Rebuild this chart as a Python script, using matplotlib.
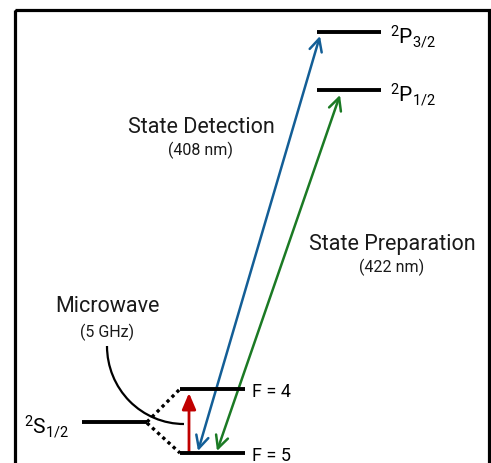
import matplotlib.pyplot as plt
from matplotlib.patches import FancyArrowPatch, Arc, Rectangle

plt.rcParams['font.family'] = ['Roboto', 'DejaVu Sans']
plt.rcParams['mathtext.fontset'] = 'custom'
plt.rcParams['mathtext.rm'] = 'Roboto'
plt.rcParams['mathtext.it'] = 'Roboto:italic'
plt.rcParams['mathtext.bf'] = 'Roboto:bold'

# energy levels (diagram units, y grows downward)
level_names = ['2P3/2', '2P1/2', 'F=4', 'F=5', '2S1/2']
level_x0 = [317, 317, 180, 180, 82]
level_x1 = [381, 381, 245, 245, 147]
level_y = [33, 91, 390, 454, 423]
level_labels = [r'$^{2}\mathrm{P}_{3/2}$', r'$^{2}\mathrm{P}_{1/2}$', 'F = 4', 'F = 5', r'$^{2}\mathrm{S}_{1/2}$']
label_x = [390, 390, 252, 252, 24]
label_size = [15, 15, 13, 13, 15]

# laser transitions: lower end -> upper end
trans_x0 = [198, 217]
trans_y0 = [452, 452]
trans_x1 = [320, 340]
trans_y1 = [37, 96]
trans_colors = ['#135E96', '#1B7A24']

# microwave transition
mw_x = 189
mw_y0 = 453
mw_y1 = 394

# hyperfine splitting lines from 2S1/2 to F levels
split_x = [147, 180]
split_y_top = [423, 390]
split_y_bot = [424, 454]

# text blocks: (title, subtitle, x, baseline title, baseline subtitle)
block_titles = ['State Detection', 'State Preparation', 'Microwave']
block_subs = ['(408 nm)', '(422 nm)', '(5 GHz)']
block_x = [201, 392, 107]
block_y_title = [133, 250, 312]
block_y_sub = [155, 272, 337]

fig = plt.figure(figsize=(4.91, 4.64), dpi=100)
ax = fig.add_axes([0, 0, 1, 1])
ax.set_xlim(0, 491)
ax.set_ylim(464, 0)
ax.axis('off')

# frame
ax.add_patch(Rectangle((15, 11), 474, 480, fill=False, lw=2.3, ec='black'))

for x0, x1, y in zip(level_x0, level_x1, level_y):
    ax.plot([x0, x1], [y, y], color='black', lw=2.8, solid_capstyle='butt')

for lab, lx, y, fs in zip(level_labels, label_x, level_y, label_size):
    ax.text(lx, y, lab, fontsize=fs, ha='left', va='center_baseline')

ax.plot(split_x, split_y_top, color='black', lw=2.4, ls=(0, (1, 1.1)))
ax.plot(split_x, split_y_bot, color='black', lw=2.4, ls=(0, (1, 1.1)))

for x0, y0, x1, y1, c in zip(trans_x0, trans_y0, trans_x1, trans_y1, trans_colors):
    ax.add_patch(FancyArrowPatch((x0, y0), (x1, y1), arrowstyle='<->,head_length=0.6,head_width=0.3',
                                 mutation_scale=15, color=c, lw=1.8, shrinkA=0, shrinkB=0))

ax.add_patch(FancyArrowPatch((mw_x, mw_y0), (mw_x, mw_y1), arrowstyle='-|>,head_length=0.75,head_width=0.32',
                             mutation_scale=13, color='#C00000', lw=2.0, shrinkA=0, shrinkB=0))

# microwave pointer
ax.add_patch(Arc((184, 347), 154, 156, theta1=90, theta2=180, color='black', lw=1.6))

for t, s, bx, yt, ys in zip(block_titles, block_subs, block_x, block_y_title, block_y_sub):
    ax.text(bx, yt, t, fontsize=15.5, ha='center', va='baseline', color='#1a1a1a')
    ax.text(bx, ys, s, fontsize=11.5, ha='center', va='baseline', color='#1a1a1a')

plt.savefig('out.png', dpi=100)
